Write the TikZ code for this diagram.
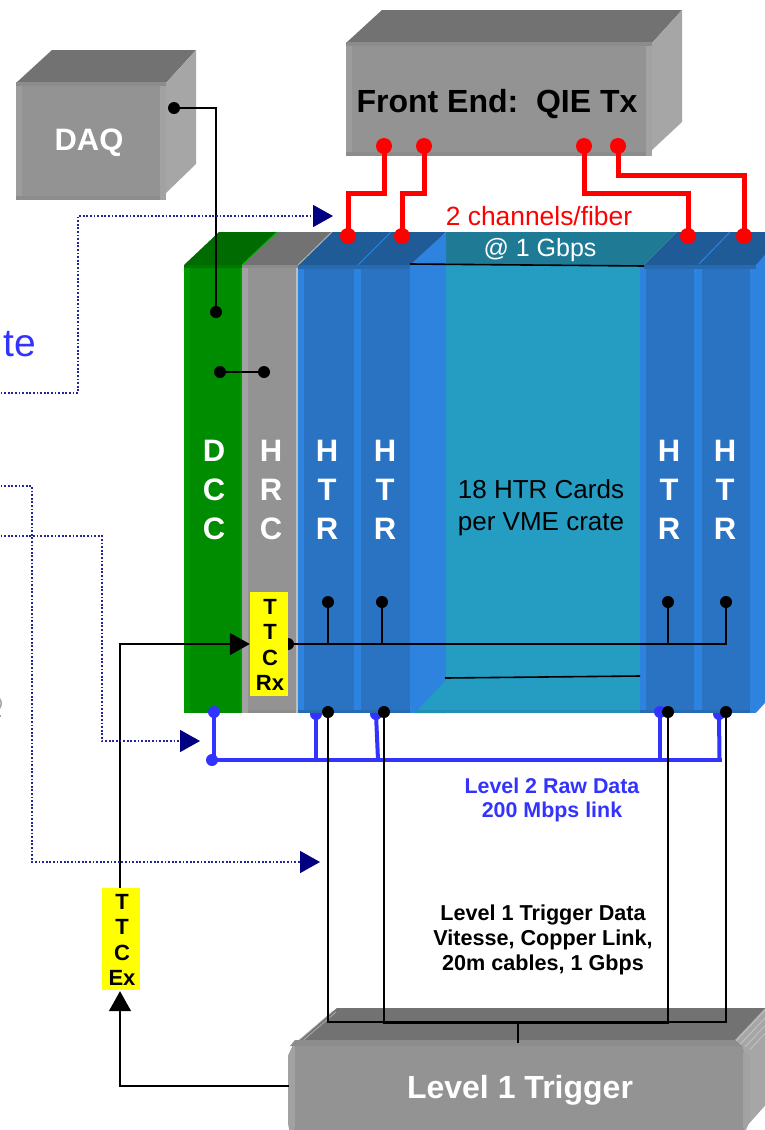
\documentclass[tikz,border=0pt]{standalone}
\usepackage{fontspec}
\setmainfont{Liberation Sans}
\usetikzlibrary{arrows.meta,calc}
\definecolor{gtop}{HTML}{727272}
\definecolor{gfront}{HTML}{939393}
\definecolor{gside}{HTML}{A6A6A6}
\definecolor{gstrip}{HTML}{A2A2A2}
\definecolor{gedge}{HTML}{8C8C8C}
\definecolor{gmain}{HTML}{008C00}
\definecolor{gstr}{HTML}{009A00}
\definecolor{gdark}{HTML}{006B00}
\definecolor{bmain}{HTML}{2973C2}
\definecolor{blight}{HTML}{2D83DE}
\definecolor{bdark}{HTML}{1F5B97}
\definecolor{teal1}{HTML}{259CC2}
\definecolor{teal2}{HTML}{1F7A96}
\definecolor{wire}{HTML}{3333FF}
\definecolor{dotline}{HTML}{25259A}
\definecolor{navytip}{HTML}{000080}
\definecolor{yel}{HTML}{FFFF00}
\definecolor{red1}{HTML}{FF0000}
\tikzset{
  bdot/.style={circle,fill=black,minimum size=12pt,inner sep=0pt},
  rdot/.style={circle,fill=red1,minimum size=16pt,inner sep=0pt},
  wdot/.style={circle,fill=wire,minimum size=12pt,inner sep=0pt},
  blackline/.style={draw=black,line width=1.6pt},
  redline/.style={draw=red1,line width=5pt},
  blueline/.style={draw=wire,line width=4pt},
  dotconn/.style={draw=dotline,line width=1.6pt,dash pattern=on 1.8pt off 1.8pt,
     -{Triangle[length=20pt,width=22pt,color=navytip,fill=navytip]}},
  bigtip/.style={-{Triangle[length=20pt,width=22pt,color=black,fill=black]}},
  lab/.style={align=center,inner sep=0pt},
  card/.style={lab,text=white,font=\fontsize{31}{39}\selectfont\bfseries},
  ttcbox/.style={rectangle,fill=yel,minimum width=38pt,inner sep=0pt},
  ttctext/.style={lab,text=black,font=\fontsize{22}{25.5}\selectfont\bfseries},
}
\begin{document}
\begin{tikzpicture}[x=1pt,y=-1pt]
\useasboundingbox (0,0) rectangle (765,1130);
\clip (0,0) rectangle (765,1130);
\fill[white] (0,0) rectangle (765,1130);

% DAQ box
\fill[gtop] (16,83) -- (52,50) -- (196,50) -- (166,83) -- cycle;
\fill[gside] (166,83) -- (196,50) -- (196,164) -- (166,193) -- cycle;
\fill[gfront] (16,82) rectangle (166,200);
\fill[gstrip!60!gfront] (16,82) rectangle (22,200);
\fill[gstrip] (160,86) rectangle (166,200);
\fill[gedge] (16,82) rectangle (166,86);
\fill[gedge] (16,196) rectangle (160,200);
\node[lab,text=white,font=\fontsize{31}{36}\selectfont\bfseries] (daq) at (89,143) {DAQ};

% Front End box
\fill[gtop] (346,43) -- (382,10) -- (682,10) -- (652,43) -- cycle;
\fill[gside] (652,43) -- (682,10) -- (682,122) -- (652,150) -- cycle;
\fill[gfront] (346,42) rectangle (652,156);
\fill[gstrip!60!gfront] (346,42) rectangle (352,156);
\fill[gstrip] (646,46) rectangle (652,156);
\fill[gedge] (346,42) rectangle (652,46);
\fill[gedge] (346,152) rectangle (646,156);
\node[lab,text=black,font=\fontsize{32}{36}\selectfont\bfseries] (fe) at (497,104) {Front End:\ \ QIE Tx};

% blue dots partly behind the crate
\node[wdot] (w2) at (316,714) {};
\node[wdot] (w3) at (376,714) {};
\node[wdot] (w5) at (719,714) {};

% Crate: tops
\fill[gdark] (184,265) -- (219,232) -- (277,232) -- (242,265) -- cycle;
\fill[gtop] (242,265) -- (277,232) -- (332,232) -- (298,265) -- cycle;
\fill[bdark] (298,265) -- (332,232) -- (446,232) -- (412,265) -- cycle;
\fill[teal2] (446,232) -- (677,232) -- (644,265) -- (446,265) -- cycle;
\fill[blight] (410,265) -- (446,232) -- (446,265) -- cycle;
\fill[bdark] (644,265) -- (677,232) -- (770,232) -- (770,265) -- cycle;
\fill[blight] (756,265) -- (770,249) -- (770,265) -- cycle;
\draw[gstr!70!green,line width=1pt] (242,265) -- (277,232);
\draw[gray!60,line width=1pt] (298,265) -- (332,232);
\draw[blight,line width=1pt] (358,265) -- (391,232);
\draw[blight,line width=1pt] (699,264) -- (730,232);

% Crate: fronts
\fill[gmain] (184,265) rectangle (242,713);
\fill[gstr] (184,265) rectangle (190,713);
\fill[gstr] (240,265) rectangle (242,713);
\fill[gfront] (242,265) rectangle (298,713);
\fill[gstrip] (242,265) rectangle (248,713);
\fill[gray!50] (296,265) rectangle (298,713);
\fill[blight] (298,265) rectangle (446,713);
\fill[bmain] (304,265) rectangle (354,713);
\fill[bmain] (361,265) rectangle (410,713);
\fill[teal1] (446,265) rectangle (640,713);
\fill[teal1] (415,713) -- (446,680) -- (446,713) -- cycle;
\fill[blight] (640,265) rectangle (765,713);
\fill[bmain] (646,265) rectangle (694,713);
\fill[bmain] (702,265) rectangle (750,713);
% top and bottom edges of the crate front
\fill[gdark!60!gmain] (184,265) rectangle (242,268);
\fill[gedge] (242,265) rectangle (298,268);
\fill[bmain!92!black] (298,265) rectangle (410,269);
\fill[bmain!92!black] (644,265) rectangle (756,269);
\fill[gedge] (248,710) rectangle (296,713);
\fill[bmain!92!black] (298,710) rectangle (410,713);
\fill[teal1!92!black] (415,710) rectangle (640,713);
\fill[bmain!92!black] (640,710) rectangle (750,713);
\fill[white] (756,713) -- (767,701) -- (767,715) -- cycle;

\node[lab,text=white,font=\fontsize{25}{31}\selectfont] (gb) at (540,250) {@ 1 Gbps};
\node[lab,text=red1,font=\fontsize{26.4}{31}\selectfont] (chan) at (539,216) {2 channels/fiber};
\node[lab,text=black,font=\fontsize{26}{32}\selectfont] (n18) at (541,508) {18 HTR Cards\\per VME crate};

\coordinate (topA) at (410,264);
\coordinate (topB) at (644,266);
\coordinate (botA) at (445,678);
\coordinate (botB) at (640,676);
\draw[blackline] (topA) -- (topB);
\draw[blackline] (botA) -- (botB);

\node[card] (dcc) at (214,490) {D\\C\\C};
\node[card] (hrc) at (271,490) {H\\R\\C};
\node[card] (htr1) at (327,490) {H\\T\\R};
\node[card] (htr2) at (385,490) {H\\T\\R};
\node[card] (htr3) at (669,490) {H\\T\\R};
\node[card] (htr4) at (725,490) {H\\T\\R};

% Level 1 Trigger box
\fill[gtop] (293,1045) -- (337,1008) -- (770,1008) -- (733,1045) -- cycle;
\fill[gside] (733,1042) -- (770,1003) -- (770,1100) -- (746,1127) -- (746,1055) -- cycle;
\foreach \d in {0,5,10,15}{
  \draw[gray!45,line width=0.7pt] (735+\d,1042+\d/2) -- (767+\d,1008+\d/2);
}
\draw[gray!60,line width=0.7pt] (296,1043) -- (333,1011);
\draw[gray!60,line width=0.7pt] (300,1043) -- (336,1012);
\fill[gfront] (288,1056) -- (293,1045) -- (742,1045) -- (744,1052) -- (744,1126) -- (746,1135) -- (290,1135) -- (288,1122) -- cycle;
\fill[gedge] (295,1040) -- (735,1040) -- (742,1046) -- (290,1046) -- cycle;
\fill[gstrip] (288,1056) -- (293,1046) -- (295,1046) -- (295,1126) -- (292,1135) -- (290,1135) -- (288,1122) -- cycle;
\fill[gstrip] (743,1052) -- (750,1056) -- (750,1120) -- (746,1130) -- (743,1128) -- cycle;
\node[lab,text=white,font=\fontsize{32}{36}\selectfont\bfseries] (l1) at (520,1090) {Level 1 Trigger};
\coordinate (l1left) at (289,1086);
\coordinate (l1top) at (518,1043);

% dots
\node[bdot] (a1) at (174,108) {};
\node[bdot] (a2) at (216,312) {};
\node[bdot] (a3) at (220,372) {};
\node[bdot] (a4) at (264,372) {};
\node[bdot] (t0) at (288,644) {};
\node[bdot] (t1) at (328,602) {};
\node[bdot] (t2) at (382,602) {};
\node[bdot] (t3) at (668,602) {};
\node[bdot] (t4) at (726,602) {};
\coordinate (t1j) at (328,644);
\coordinate (t2j) at (382,644);
\coordinate (t3j) at (668,644);
\coordinate (t4j) at (726,644);
\node[bdot] (b1) at (328,712) {};
\node[bdot] (b2) at (384,712) {};

% blue wires
\node[wdot] (w1) at (214,712) {};
\node[wdot] (w4) at (660,712) {};
\node[wdot] (w0) at (212,760) {};
\coordinate (w1j) at (214,760);
\coordinate (w2j) at (316,760);
\coordinate (w3j) at (378,760);
\coordinate (w4j) at (660,760);
\coordinate (w5j) at (719.5,760);
\draw[blueline] (w1.center) -- (w1j);
\draw[blueline] (w2.center) -- (w2j);
\draw[blueline] (w3.center) -- (w3j);
\draw[blueline] (w4.center) -- (w4j);
\draw[blueline] (w5.center) -- (w5j);
\draw[blueline,line cap=rect] (w0.center) -- (w5j);
\node[bdot] (b3) at (668,712) {};
\node[bdot] (b4) at (726,712) {};

% black wires
\draw[blackline] (a1.center) -| (a2.center);
\draw[blackline] (a3.center) -- (a4.center);
\draw[blackline] (t0.center) -- (t4j) -- (t4.center);
\draw[blackline] (t1.center) -- (t1j);
\draw[blackline] (t2.center) -- (t2j);
\draw[blackline] (t3.center) -- (t3j);
\coordinate (c1) at (328,1022);
\coordinate (c2) at (384,1023.5);
\coordinate (c3) at (668,1023.5);
\coordinate (c4) at (726,1022);
\coordinate (c5) at (518,1023.5);
\draw[blackline] (b1.center) -- (c1) -- (c4) -- (b4.center);
\draw[blackline] (b2.center) -- (c2) -- (c3) -- (b3.center);
\draw[blackline] (c5) -- (l1top);

% TTC boxes
\node[ttcbox,minimum height=104pt] (ttcrx) at (269,644) {};
\node[ttcbox,minimum height=102pt] (ttcex) at (121,939) {};
\node[ttctext] (ttcrxt) at (270,645) {T\\T\\C\\Rx};
\node[ttctext] (ttcext) at (122,940) {T\\T\\C\\Ex};
\draw[blackline,bigtip] ([xshift=-1pt]ttcex.north) |- (ttcrx.west);
\draw[blackline,bigtip] (l1left) -| ([xshift=-1pt,yshift=-1pt]ttcex.south);

% red fibres
\node[rdot] (r1) at (384,146) {};
\node[rdot] (r2) at (424,146) {};
\node[rdot] (r3) at (584,146) {};
\node[rdot] (r4) at (618,146) {};
\node[rdot] (s1) at (348,236) {};
\node[rdot] (s2) at (402,236) {};
\node[rdot] (s3) at (688,236) {};
\node[rdot] (s4) at (744,236) {};
\draw[redline] (r1.center) |- (348,193) -- (s1.center);
\draw[redline] (r2.center) |- (402,193) -- (s2.center);
\draw[redline] (r3.center) |- (688,193) -- (s3.center);
\draw[redline] (r4.center) |- (744,175) -- (s4.center);

% dotted control lines entering from the left edge
\coordinate (e1) at (-3,393);
\coordinate (e2) at (-3,486);
\coordinate (e3) at (-3,536);
\coordinate (tp1) at (333,216);
\coordinate (tp2) at (320,862);
\coordinate (tp3) at (200,741);
\draw[dotconn] (e1) -| (78,216) -- (tp1);
\draw[dotconn] (e2) -| (32,862) -- (tp2);
\draw[dotconn] (e3) -| (102,741) -- (tp3);

% labels
\node[anchor=base east,inner sep=0pt,text=wire,font=\fontsize{39}{44}\selectfont] (ratetxt) at (36,356) {te};
\node[lab,text=wire,font=\fontsize{21.4}{24}\selectfont\bfseries] (l2) at (552,800) {Level 2 Raw Data\\200 Mbps link};
\node[lab,text=black,font=\fontsize{21.6}{25}\selectfont\bfseries] (l1d) at (543,940) {Level 1 Trigger Data\\Vitesse, Copper Link,\\20m cables, 1 Gbps};

% clipped grey glyph at the left edge
\draw[gray!70,line width=1.5pt] (-1,698) .. controls (2,701) and (2,706) .. (-1,709);
\draw[gray!70,line width=1.5pt] (-1,716) -- (1,716);
\end{tikzpicture}
\end{document}
